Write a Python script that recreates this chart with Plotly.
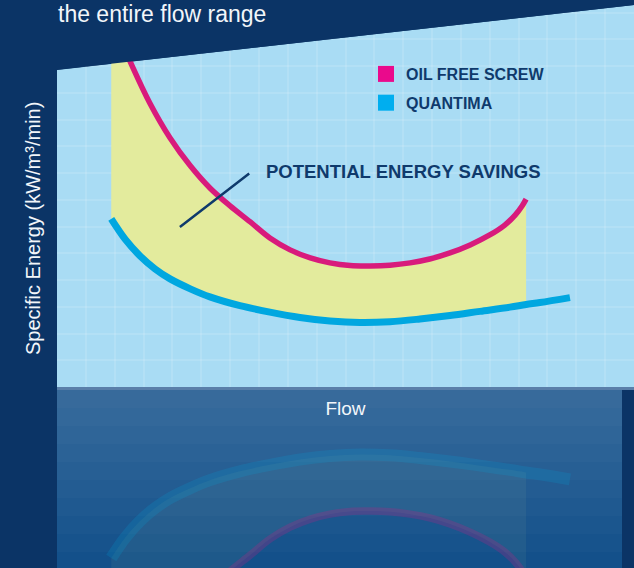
import plotly.graph_objects as go

# ---------------- data ----------------
title_text = "the entire flow range"
y_title = "Specific Energy (kW/m³/min)"
x_title = "Flow"
series_names = ["OIL FREE SCREW", "QUANTIMA"]
callout_text = "POTENTIAL ENERGY SAVINGS"

# Flow (% of range) vs specific energy (relative units)
oil_free_flow = [9.4, 12.8, 16.1, 19.6, 23.1, 26.5, 30.0, 33.5, 36.9, 40.4, 43.9, 47.3, 50.8,
                 54.3, 57.7, 61.2, 64.6, 68.1, 71.6, 75.0, 77.6, 79.4, 80.6, 81.3]
oil_free_energy = [96.6, 84.8, 74.3, 65.2, 57.9, 52.1, 47.4, 43.2, 39.0, 35.9, 33.8, 32.5, 31.8,
                   31.7, 31.9, 32.5, 33.5, 35.1, 37.2, 39.8, 42.4, 45.0, 47.4, 49.2]

quantima_flow = [9.4, 11.8, 14.4, 17.0, 19.6, 23.1, 26.5, 31.7, 36.9, 42.1, 47.3, 52.5, 57.7,
                 62.9, 68.1, 73.3, 78.5, 81.3, 83.7, 88.9]
quantima_energy = [44.0, 38.7, 34.3, 30.9, 28.3, 25.7, 23.6, 21.3, 19.6, 18.2, 17.3, 16.9, 17.1,
                   17.8, 18.7, 19.8, 20.9, 21.6, 22.1, 23.4]

# callout pointer (flow, energy): head and tail
pointer_head = (21.3, 41.9)
pointer_tail = (33.4, 56.0)
callout_pos = (35.8, 56.4)

# ---------------- style ----------------
W, H = 634, 568
NAVY = "#0b3466"
PANEL = "#a9dcf4"
REFLECT = "#0f4d88"
PINK = "#d81b7c"
PINK_KEY = "#ea0a8c"
BLUE = "#00a7e0"
BLUE_KEY = "#00aeef"
SAVE = "#e3eb9d"
DARK = "#0f3a6c"
WHITE = "#f2f6fa"
FONT = "Liberation Sans, Arial, sans-serif"


def px(x):
    return x / W


def py(y):
    return 1 - y / H


# panel geometry (pixels)
L, R, TOP_L, TOP_R, BOT = 57, 634, 70, 5, 387
REF_TOP, REF_R = 390, 622

fig = go.Figure()

# savings band: base (Quantima within oil-free range) + oil-free with fill
band_flow = [f for f in quantima_flow if f <= oil_free_flow[-1]]
band_energy = [e for f, e in zip(quantima_flow, quantima_energy) if f <= oil_free_flow[-1]]

styles = [
    ("x2", "y2", "rgba(227,235,157,0.06)", "rgba(190,30,130,0.26)", "rgba(0,167,224,0.18)", 5),
    ("x", "y", SAVE, PINK, BLUE, 0),
]
for xa, ya, fillc, pinkc, bluec, extra in styles:
    fig.add_trace(go.Scatter(x=band_flow, y=band_energy, mode="lines",
                             line=dict(width=0, shape="spline", color=fillc),
                             xaxis=xa, yaxis=ya, showlegend=False, hoverinfo="skip"))
    fig.add_trace(go.Scatter(x=oil_free_flow, y=oil_free_energy, mode="lines",
                             line=dict(width=5.5 + extra * 0.4, shape="spline", color=pinkc),
                             fill="tonexty", fillcolor=fillc,
                             xaxis=xa, yaxis=ya, showlegend=False,
                             name=series_names[0]))
    fig.add_trace(go.Scatter(x=quantima_flow, y=quantima_energy, mode="lines",
                             line=dict(width=7 + extra, shape="spline", color=bluec),
                             xaxis=xa, yaxis=ya, showlegend=False,
                             name=series_names[1]))

# legend keys (square swatches)
for name, col, grp in [(series_names[0], PINK_KEY, "a"), (series_names[1], BLUE_KEY, "b")]:
    fig.add_trace(go.Scatter(x=[None], y=[None], mode="markers", name=name,
                             legendgroup=grp,
                             marker=dict(symbol="square", size=16, color=col)))

shapes = [
    # light blue panel with slanted top
    dict(type="path", xref="paper", yref="paper", layer="below",
         path=f"M {px(L)},{py(BOT)} L {px(L)},{py(TOP_L)} L {px(R)},{py(TOP_R)} L {px(R)},{py(BOT)} Z",
         fillcolor=PANEL, line=dict(width=0)),
    # reflection panel
    dict(type="rect", xref="paper", yref="paper", layer="below",
         x0=px(L), x1=px(REF_R), y0=0, y1=py(REF_TOP), fillcolor=REFLECT, line=dict(width=0)),
]
# soft vertical gradient on the reflection
for k in range(10):
    y_end = REF_TOP + 18 * (k + 1)
    shapes.append(dict(type="rect", xref="paper", yref="paper", layer="below",
                       x0=px(L), x1=px(REF_R), y0=py(min(y_end, H)), y1=py(REF_TOP),
                       fillcolor="rgba(255,255,255,0.018)", line=dict(width=0)))
shapes += [
    # divider between panel and reflection
    dict(type="rect", xref="paper", yref="paper", layer="below",
         x0=px(L), x1=px(R), y0=py(REF_TOP), y1=py(BOT), fillcolor="#5a7fa9", line=dict(width=0)),
    # navy cover above the slanted top edge
    dict(type="path", xref="paper", yref="paper", layer="above",
         path=f"M {px(L - 2)},{py(TOP_L)} L {px(R)},{py(TOP_R)} L {px(R)},1 L {px(L - 2)},1 Z",
         fillcolor=NAVY, line=dict(width=0)),
]

annotations = [
    dict(text=title_text, xref="paper", yref="paper", x=px(57), y=1,
         xanchor="left", yanchor="top", showarrow=False, borderpad=0,
         font=dict(family=FONT, size=23, color=WHITE)),
    dict(text=y_title, xref="paper", yref="paper", x=px(33), y=py(229),
         xanchor="center", yanchor="middle", textangle=-90, showarrow=False,
         font=dict(family=FONT, size=20, color=WHITE)),
    dict(text=callout_text, xref="x", yref="y", x=callout_pos[0], y=callout_pos[1],
         xanchor="left", yanchor="middle", showarrow=False,
         font=dict(family=FONT, size=18.5, color=DARK, weight="bold")),
    dict(text="", xref="x", yref="y", x=pointer_head[0], y=pointer_head[1],
         axref="x", ayref="y", ax=pointer_tail[0], ay=pointer_tail[1],
         showarrow=True, arrowhead=0, arrowwidth=2.5, arrowcolor=DARK,
         standoff=0, startstandoff=0, borderpad=0),
]

fig.update_layout(
    width=W, height=H,
    margin=dict(l=0, r=0, t=0, b=0),
    paper_bgcolor=NAVY, plot_bgcolor="rgba(0,0,0,0)",
    font=dict(family=FONT, color=WHITE),
    shapes=shapes, annotations=annotations,
    showlegend=True,
    legend=dict(x=px(366), y=py(57), xanchor="left", yanchor="top",
                bgcolor="rgba(0,0,0,0)", traceorder="grouped", tracegroupgap=5,
                font=dict(family=FONT, size=16, color=DARK, weight="bold")),
    xaxis=dict(domain=[px(L), 1], range=[0, 100], showticklabels=False, ticks="",
               showgrid=True, gridcolor="rgba(255,255,255,0.12)", gridwidth=2, dtick=5,
               zeroline=False, showline=False, anchor="y",
               title=dict(text=x_title, standoff=14, font=dict(family=FONT, size=19, color=WHITE))),
    yaxis=dict(domain=[py(BOT), py(TOP_R)], range=[0, 100], showticklabels=False, ticks="",
               showgrid=True, gridcolor="rgba(255,255,255,0.12)", gridwidth=2, dtick=7,
               zeroline=False, showline=False, anchor="x"),
    xaxis2=dict(domain=[px(L), 1], range=[0, 100], visible=False, anchor="y2", matches="x"),
    yaxis2=dict(domain=[0, py(REF_TOP)], range=[(H - REF_TOP) / 3.82, 0], visible=False, anchor="x2"),
)

fig.write_html("out.html", config={"displayModeBar": False},
               post_script="document.body.style.margin='0';document.body.style.overflow='hidden';")
